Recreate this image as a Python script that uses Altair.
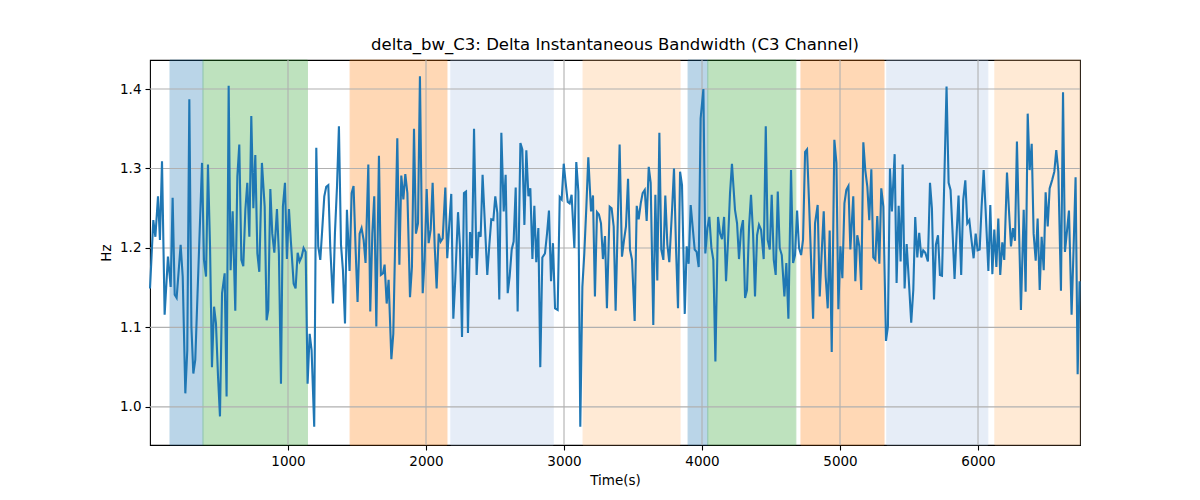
import altair as alt
import pandas as pd

times = [
    0, 24, 39, 58, 72, 87, 106, 130, 150, 164, 179, 193, 222, 237, 256, 270, 285, 300, 314, 328,
    377, 391, 406, 420, 435, 449, 464, 478, 493, 507, 522, 541, 555, 570, 584, 599, 618, 633, 647, 662,
    676, 691, 705, 720, 734, 749, 763, 778, 792, 811, 831, 845, 857, 872, 886, 901, 920, 934, 949, 963,
    978, 992, 1007, 1021, 1041, 1055, 1070, 1084, 1099, 1113, 1128, 1142, 1157, 1171, 1190, 1205, 1219, 1234, 1248, 1263,
    1277, 1292, 1306, 1326, 1340, 1355, 1369, 1384, 1398, 1413, 1427, 1446, 1461, 1475, 1490, 1504, 1519, 1533, 1548, 1562,
    1582, 1596, 1611, 1625, 1640, 1659, 1673, 1688, 1700, 1715, 1729, 1749, 1763, 1792, 1807, 1821, 1836, 1850, 1865, 1884,
    1898, 1913, 1927, 1942, 1956, 1976, 1990, 2005, 2019, 2034, 2048, 2063, 2077, 2092, 2106, 2121, 2140, 2154, 2169, 2183,
    2198, 2212, 2232, 2246, 2261, 2275, 2290, 2304, 2319, 2333, 2348, 2367, 2381, 2396, 2410, 2444, 2459, 2473, 2488, 2502,
    2517, 2531, 2546, 2563, 2577, 2592, 2606, 2621, 2635, 2650, 2664, 2684, 2698, 2713, 2727, 2742, 2756, 2771, 2785, 2799,
    2814, 2828, 2843, 2862, 2877, 2891, 2906, 2920, 2935, 2954, 2969, 2983, 2998, 3012, 3027, 3041, 3055, 3075, 3089, 3104,
    3118, 3133, 3147, 3162, 3176, 3196, 3210, 3224, 3239, 3253, 3268, 3282, 3297, 3311, 3331, 3345, 3360, 3374, 3403, 3420,
    3435, 3449, 3464, 3478, 3493, 3512, 3527, 3541, 3556, 3570, 3585, 3599, 3614, 3628, 3647, 3662, 3676, 3691, 3705, 3720,
    3734, 3749, 3763, 3783, 3797, 3812, 3826, 3841, 3855, 3875, 3889, 3903, 3918, 3932, 3947, 3961, 3976, 3990, 4010, 4024,
    4039, 4053, 4068, 4082, 4097, 4116, 4131, 4145, 4160, 4174, 4189, 4203, 4217, 4239, 4254, 4268, 4283, 4297, 4312, 4326,
    4341, 4355, 4370, 4384, 4399, 4413, 4428, 4447, 4462, 4476, 4491, 4505, 4520, 4534, 4549, 4563, 4578, 4597, 4611, 4626,
    4645, 4660, 4674, 4689, 4703, 4718, 4732, 4747, 4761, 4776, 4805, 4819, 4838, 4853, 4867, 4882, 4896, 4911, 4925, 4940,
    4959, 4974, 4988, 5003, 5017, 5032, 5046, 5061, 5075, 5096, 5111, 5125, 5140, 5154, 5169, 5183, 5198, 5212, 5227, 5241,
    5256, 5270, 5285, 5299, 5314, 5333, 5347, 5362, 5376, 5396, 5410, 5425, 5439, 5454, 5468, 5483, 5497, 5516, 5531, 5545,
    5560, 5574, 5589, 5603, 5618, 5637, 5652, 5666, 5681, 5695, 5710, 5724, 5739, 5772, 5787, 5801, 5816, 5830, 5845, 5859,
    5878, 5893, 5908, 5922, 5937, 5954, 5968, 5983, 5997, 6012, 6026, 6041, 6055, 6075, 6089, 6104, 6118, 6133, 6147, 6161,
    6176, 6190, 6210, 6224, 6239, 6253, 6268, 6282, 6311, 6331, 6345, 6360, 6374, 6389, 6403, 6418, 6432, 6447, 6461, 6476,
    6490, 6505, 6519, 6538, 6553, 6567, 6582, 6601, 6616, 6630, 6659, 6678, 6693, 6707, 6722, 6736,
]
hz = [
    1.149, 1.235, 1.214, 1.265, 1.210, 1.309, 1.116, 1.189, 1.151, 1.263, 1.141, 1.137, 1.204, 1.164, 1.017, 1.071, 1.387, 1.101, 1.042, 1.059,
    1.307, 1.185, 1.164, 1.305, 1.202, 1.050, 1.126, 1.105, 1.038, 0.988, 1.143, 1.168, 1.013, 1.404, 1.172, 1.246, 1.121, 1.290, 1.330, 1.185,
    1.177, 1.248, 1.282, 1.214, 1.366, 1.250, 1.317, 1.193, 1.170, 1.307, 1.252, 1.109, 1.122, 1.274, 1.218, 1.194, 1.249, 1.193, 1.029, 1.252,
    1.282, 1.186, 1.249, 1.208, 1.155, 1.149, 1.194, 1.183, 1.189, 1.200, 1.195, 1.029, 1.092, 1.071, 0.975, 1.326, 1.202, 1.185, 1.223, 1.265,
    1.277, 1.279, 1.202, 1.130, 1.218, 1.277, 1.353, 1.204, 1.172, 1.105, 1.248, 1.171, 1.269, 1.278, 1.198, 1.132, 1.218, 1.225, 1.210, 1.181,
    1.305, 1.120, 1.218, 1.265, 1.101, 1.316, 1.166, 1.168, 1.179, 1.130, 1.160, 1.060, 1.092, 1.338, 1.179, 1.291, 1.261, 1.293, 1.269, 1.138,
    1.176, 1.350, 1.218, 1.231, 1.416, 1.143, 1.185, 1.274, 1.206, 1.223, 1.282, 1.202, 1.149, 1.218, 1.208, 1.212, 1.276, 1.187, 1.231, 1.268,
    1.111, 1.160, 1.245, 1.202, 1.088, 1.269, 1.271, 1.093, 1.220, 1.187, 1.350, 1.166, 1.220, 1.214, 1.292, 1.166, 1.204, 1.236, 1.235, 1.265,
    1.244, 1.135, 1.345, 1.246, 1.292, 1.143, 1.164, 1.198, 1.208, 1.276, 1.120, 1.332, 1.324, 1.229, 1.323, 1.265, 1.275, 1.186, 1.253, 1.182,
    1.225, 1.050, 1.188, 1.193, 1.218, 1.247, 1.158, 1.206, 1.124, 1.122, 1.264, 1.261, 1.306, 1.282, 1.258, 1.256, 1.267, 1.200, 1.308, 1.271,
    0.975, 1.151, 1.193, 1.252, 1.314, 1.246, 1.266, 1.139, 1.245, 1.242, 1.231, 1.186, 1.215, 1.124, 1.252, 1.250, 1.227, 1.121, 1.330, 1.189,
    1.210, 1.227, 1.287, 1.198, 1.185, 1.108, 1.253, 1.236, 1.256, 1.269, 1.273, 1.234, 1.302, 1.282, 1.103, 1.267, 1.159, 1.345, 1.198, 1.185,
    1.266, 1.204, 1.182, 1.248, 1.300, 1.198, 1.124, 1.296, 1.279, 1.117, 1.202, 1.180, 1.254, 1.227, 1.198, 1.195, 1.176, 1.363, 1.400, 1.193,
    1.225, 1.239, 1.200, 1.185, 1.057, 1.239, 1.218, 1.211, 1.239, 1.158, 1.210, 1.269, 1.306, 1.248, 1.231, 1.186, 1.223, 1.235, 1.137, 1.147,
    1.227, 1.267, 1.218, 1.139, 1.216, 1.229, 1.223, 1.186, 1.353, 1.210, 1.198, 1.267, 1.185, 1.166, 1.271, 1.200, 1.191, 1.139, 1.181, 1.111,
    1.298, 1.181, 1.191, 1.247, 1.200, 1.191, 1.210, 1.321, 1.324, 1.256, 1.111, 1.231, 1.254, 1.139, 1.193, 1.246, 1.164, 1.124, 1.222, 1.069,
    1.336, 1.307, 1.123, 1.202, 1.162, 1.256, 1.273, 1.278, 1.198, 1.265, 1.158, 1.216, 1.202, 1.147, 1.333, 1.298, 1.277, 1.235, 1.299, 1.188,
    1.185, 1.240, 1.180, 1.275, 1.252, 1.083, 1.101, 1.300, 1.246, 1.318, 1.156, 1.253, 1.183, 1.305, 1.149, 1.205, 1.164, 1.106, 1.147, 1.239,
    1.188, 1.219, 1.188, 1.197, 1.194, 1.183, 1.282, 1.250, 1.135, 1.204, 1.216, 1.166, 1.165, 1.403, 1.282, 1.273, 1.218, 1.161, 1.218, 1.266,
    1.166, 1.261, 1.285, 1.231, 1.235, 1.208, 1.187, 1.218, 1.197, 1.198, 1.252, 1.298, 1.248, 1.171, 1.254, 1.167, 1.223, 1.176, 1.237, 1.166,
    1.207, 1.185, 1.295, 1.248, 1.202, 1.225, 1.209, 1.334, 1.122, 1.248, 1.145, 1.369, 1.298, 1.331, 1.218, 1.184, 1.237, 1.147, 1.214, 1.172,
    1.270, 1.227, 1.275, 1.286, 1.296, 1.323, 1.296, 1.146, 1.396, 1.195, 1.247, 1.116, 1.202, 1.289, 1.041, 1.158,
]

# shaded segments
span_start = [145, 384, 1450, 2180, 3138, 3899, 4042, 4717, 5339, 6122]
span_end = [384, 1141, 2152, 2922, 3841, 4042, 4680, 5319, 6071, 6739]
span_kind = ["A", "B", "C", "D", "E", "A", "B", "C", "D", "E"]

x_ticks = [1000, 2000, 3000, 4000, 5000, 6000]
y_ticks = [1.0, 1.1, 1.2, 1.3, 1.4]

trace = pd.DataFrame({"t": times, "hz": hz})
spans = pd.DataFrame({"start": span_start, "end": span_end, "kind": span_kind})

x_scale = alt.Scale(domain=[0, 6739], nice=False, zero=False)
y_scale = alt.Scale(domain=[0.952, 1.4365], nice=False, zero=False)
kind_colors = alt.Scale(
    domain=["A", "B", "C", "D", "E"],
    range=["#1f77b4", "#2ca02c", "#ff7f0e", "#aec7e8", "#ffbb78"],
)

span_layer = alt.Chart(spans).mark_rect(opacity=0.3, strokeWidth=1).encode(
    x=alt.X("start:Q", scale=x_scale, title="Time(s)",
            axis=alt.Axis(values=x_ticks, format="d", grid=False)),
    x2="end:Q",
    color=alt.Color("kind:N", scale=kind_colors, legend=None),
    stroke=alt.Stroke("kind:N", scale=kind_colors, legend=None),
)

vgrid = alt.Chart(pd.DataFrame({"v": x_ticks})).mark_rule(
    color="#b0b0b0", strokeWidth=1.1
).encode(x=alt.X("v:Q", scale=x_scale))

hgrid = alt.Chart(pd.DataFrame({"v": y_ticks})).mark_rule(
    color="#b0b0b0", strokeWidth=1.1
).encode(y=alt.Y("v:Q", scale=y_scale))

line = alt.Chart(trace).mark_line(color="#1f77b4", strokeWidth=2.1).encode(
    x=alt.X("t:Q", scale=x_scale),
    y=alt.Y("hz:Q", scale=y_scale, title="Hz",
            axis=alt.Axis(values=y_ticks, format=".1f", grid=False)),
)

chart = alt.layer(span_layer, vgrid, hgrid, line).properties(
    width=930,
    height=385,
    autosize=alt.AutoSizeParams(type="none"),
    padding={"left": 142, "top": 52, "right": 112, "bottom": 55},
    title=alt.TitleParams(
        "delta_bw_C3: Delta Instantaneous Bandwidth (C3 Channel)",
        font="DejaVu Sans", fontSize=16.5, fontWeight="normal",
        color="black", offset=6,
    ),
).configure_view(
    stroke="black", strokeWidth=1.1
).configure_axis(
    domain=False,
    ticks=True,
    tickColor="black",
    tickSize=5,
    tickWidth=1.1,
    labelFont="DejaVu Sans",
    labelFontSize=13.5,
    labelColor="black",
    labelPadding=4,
    titleFont="DejaVu Sans",
    titleFontSize=13.5,
    titleFontWeight="normal",
    titleColor="black",
    titlePadding=6,
)

chart.save("out.html", embed_options={"renderer": "svg", "actions": False})
